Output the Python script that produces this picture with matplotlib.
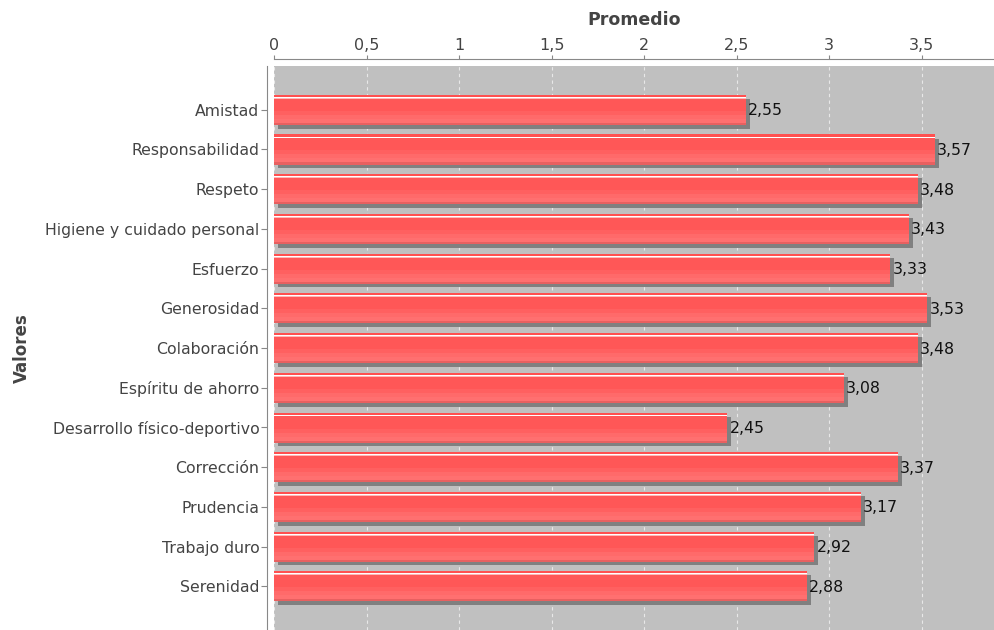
import matplotlib
matplotlib.use("Agg")
import matplotlib.pyplot as plt
import numpy as np

categories = ["Amistad", "Responsabilidad", "Respeto", "Higiene y cuidado personal",
              "Esfuerzo", "Generosidad", "Colaboración", "Espíritu de ahorro",
              "Desarrollo físico-deportivo", "Corrección", "Prudencia",
              "Trabajo duro", "Serenidad"]
values = [2.55, 3.57, 3.48, 3.43, 3.33, 3.53, 3.48, 3.08, 2.45, 3.37, 3.17, 2.92, 2.88]
value_labels = ["2,55", "3,57", "3,48", "3,43", "3,33", "3,53", "3,48", "3,08",
                "2,45", "3,37", "3,17", "2,92", "2,88"]
xticks = [0, 0.5, 1, 1.5, 2, 2.5, 3, 3.5]
xtick_labels = ["0", "0,5", "1", "1,5", "2", "2,5", "3", "3,5"]

W, H = 994, 630
fig = plt.figure(figsize=(W / 100, H / 100), dpi=100)
ax = fig.add_axes([274 / W, 0.0, (W - 274) / W, (H - 66) / H])
ax.set_facecolor("#c0c0c0")

n = len(categories)
y = np.arange(n)
vals = np.array(values)
h = 0.75
XMAX = 3.89
px_x = XMAX / (W - 274)
px_y = (n - 1 + 2.2) / (H - 66)
sx = 4 * px_x
sy = 4 * px_y

# shadow
ax.barh(y + sy, vals, height=h, left=sx, color="#808080", zorder=2)

# gradient strips: (start_px, end_px, colour) measured from bar top, bar = 30 px
strips = [(0, 2, "#ff5050"), (2, 3, "#ffffff"), (3, 4, "#ffb8b8"),
          (4, 16, "#ff5757"), (16, 20, "#ff6060"), (20, 24, "#ff6a6a"),
          (24, 28, "#ff7070"), (28, 30, "#e86060")]
top = y - h / 2
for s0, s1, c in strips:
    hh = (s1 - s0) * px_y
    ax.barh(top + s0 * px_y + hh / 2, vals, height=hh * 1.02, color=c,
            zorder=3, linewidth=0)

for yi, v, lab in zip(y, vals, value_labels):
    ax.text(v + 2 * px_x, yi + 1 * px_y, lab, va="center", ha="left", fontsize=11.3,
            color="#111111", zorder=5)

ax.set_xlim(0, XMAX)
ax.set_ylim(n - 1 + 1.1, -1.1)
ax.xaxis.set_ticks_position("top")
ax.xaxis.set_label_position("top")
ax.set_yticks(y)
ax.set_yticklabels(categories)
ax.set_xticks(xticks)
ax.set_xticklabels(xtick_labels)
ax.set_xlabel("Promedio", fontsize=12.5, fontweight="bold", color="#444444", labelpad=9)
ax.set_ylabel("Valores", fontsize=12, fontweight="bold", color="#444444", labelpad=10)

ax.grid(axis="x", color="#e8e8e8", linestyle=(0, (3, 3)), linewidth=0.8, zorder=1)
ax.set_axisbelow(True)

for s in ["right", "bottom"]:
    ax.spines[s].set_visible(False)
ax.spines["left"].set_position(("outward", 5))
ax.spines["top"].set_position(("outward", 5))
ax.spines["left"].set_color("#888888")
ax.spines["top"].set_color("#888888")
ax.tick_params(axis="y", length=4, color="#888888", pad=1.5,
               labelsize=11.3, labelcolor="#444444")
ax.tick_params(axis="x", length=3, color="#888888", pad=1.5,
               labelsize=11.5, labelcolor="#444444")

fig.savefig("out.png", dpi=100)
